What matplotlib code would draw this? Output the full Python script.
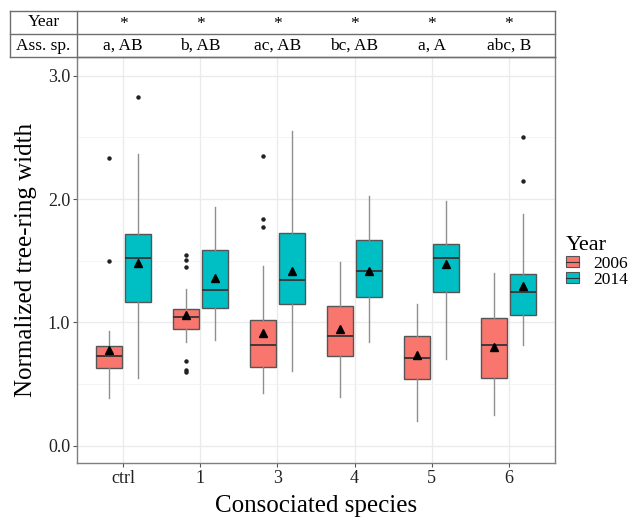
import matplotlib
matplotlib.use("Agg")
import matplotlib.pyplot as plt
from matplotlib.lines import Line2D
from matplotlib.patches import Patch
import matplotlib.transforms as mtransforms

plt.rcParams['font.family'] = ['Liberation Serif', 'DejaVu Serif']

# categories and table letters
species = ["ctrl", "1", "3", "4", "5", "6"]
year_sig = ["*", "*", "*", "*", "*", "*"]
ass_sp = ["a, AB", "b, AB", "ac, AB", "bc, AB", "a, A", "abc, B"]
years = ["2006", "2014"]
colors = ["#F8766D", "#00BFC4"]

# box stats, per year, per species
med_2006 = [0.725, 1.046, 0.817, 0.887, 0.714, 0.814]
q1_2006 = [0.63, 0.949, 0.636, 0.725, 0.538, 0.549]
q3_2006 = [0.807, 1.109, 1.022, 1.135, 0.887, 1.036]
lo_2006 = [0.39, 0.844, 0.425, 0.395, 0.20, 0.246]
hi_2006 = [0.93, 1.271, 1.455, 1.492, 1.152, 1.40]
mean_2006 = [0.776, 1.06, 0.917, 0.944, 0.736, 0.803]
out_2006 = [[2.336, 1.498], [1.547, 1.503, 1.447, 0.69, 0.614, 0.598],
            [2.352, 1.836, 1.774], [], [], []]

med_2014 = [1.522, 1.265, 1.346, 1.414, 1.52, 1.249]
q1_2014 = [1.163, 1.12, 1.149, 1.209, 1.244, 1.062]
q3_2014 = [1.714, 1.59, 1.722, 1.668, 1.636, 1.39]
lo_2014 = [0.549, 0.855, 0.603, 0.841, 0.70, 0.814]
hi_2014 = [2.368, 1.936, 2.55, 2.025, 1.985, 1.877]
mean_2014 = [1.484, 1.363, 1.417, 1.419, 1.474, 1.298]
out_2014 = [[2.83], [], [], [], [], [2.506, 2.149]]

series = [
    (med_2006, q1_2006, q3_2006, lo_2006, hi_2006, mean_2006, out_2006),
    (med_2014, q1_2014, q3_2014, lo_2014, hi_2014, mean_2014, out_2014),
]

fig = plt.figure(figsize=(6.32, 5.18), dpi=100)
ax = fig.add_axes([77/632, 1 - 463/518, (555-77)/632, (463-57)/518])

offsets = [-0.1875, 0.1875]
for k, (med, q1, q3, lo, hi, mn, outl) in enumerate(series):
    stats = []
    for i in range(len(species)):
        stats.append(dict(med=med[i], q1=q1[i], q3=q3[i], whislo=lo[i],
                          whishi=hi[i], fliers=outl[i]))
    pos = [i + offsets[k] for i in range(len(species))]
    ax.bxp(stats, positions=pos, widths=0.3375, patch_artist=True,
           showcaps=False,
           boxprops=dict(facecolor=colors[k], edgecolor="#555555", linewidth=1.0),
           whiskerprops=dict(color="#8f8f8f", linewidth=1.0),
           medianprops=dict(color="#333333", linewidth=1.3),
           flierprops=dict(marker="o", markersize=2.2, markerfacecolor="#222222",
                           markeredgecolor="#222222"),
           zorder=3)
    ax.plot(pos, mn, linestyle="none", marker="^", markersize=5.5,
            color="black", zorder=5)

ax.set_xlim(-0.6, 5.6)
ax.set_ylim(-0.14, 3.152)
ax.set_xticks(range(len(species)))
ax.set_xticklabels(species)
ax.set_yticks([0, 1, 2, 3])
ax.set_yticklabels(["0.0", "1.0", "2.0", "3.0"])
ax.set_yticks([0.5, 1.5, 2.5], minor=True)
ax.grid(True, which="major", color="#ebebeb", linewidth=1.0, zorder=0)
ax.grid(True, which="minor", axis="y", color="#f2f2f2", linewidth=0.6, zorder=0)
ax.set_axisbelow(True)
ax.tick_params(axis="both", which="major", length=3, color="#555555",
               labelsize=13, labelcolor="#222222", pad=2)
ax.tick_params(axis="y", which="minor", length=0)
for s in ax.spines.values():
    s.set_color("#7f7f7f")
    s.set_linewidth(1.0)

ax.set_xlabel("Consociated species", fontsize=18, labelpad=6)
ax.set_ylabel("Normalized tree-ring width", fontsize=18, labelpad=8)

# table above the panel
def fy(py):
    return 1 - py / 518

tc = "#6e6e6e"
x0, xd, x1 = 10/632, 77/632, 555/632
for py in (11, 34, 57):
    fig.add_artist(Line2D([x0, x1], [fy(py), fy(py)], color=tc, linewidth=1.0))
for px in (x0, xd, x1):
    fig.add_artist(Line2D([px, px], [fy(11), fy(57)], color=tc, linewidth=1.0))

fig.text((x0 + xd) / 2, fy(22.5), "Year", ha="center", va="center", fontsize=12.5)
fig.text((x0 + xd) / 2, fy(45.5), "Ass. sp.", ha="center", va="center", fontsize=12.5)
trans = mtransforms.blended_transform_factory(ax.transData, fig.transFigure)
for i in range(len(species)):
    fig.text(i, fy(24), year_sig[i], ha="center", va="center", fontsize=12.5,
             transform=trans)
    fig.text(i, fy(45.5), ass_sp[i], ha="center", va="center", fontsize=12.5,
             transform=trans)

# legend: small boxplot-like keys
handles = [(Patch(facecolor=colors[k], edgecolor="#555555", linewidth=0.8),
            Line2D([], [], color="#333333", linewidth=0.8))
           for k in range(2)]
fig.legend(handles=handles, labels=years, title="Year", loc="center left",
           bbox_to_anchor=(566/632, fy(262)), frameon=False, fontsize=12.5,
           title_fontsize=16, handlelength=0.75, handleheight=0.6,
           labelspacing=0.0, handletextpad=0.8, borderpad=0.0,
           borderaxespad=0.0, alignment="left")

fig.savefig("out.png", dpi=100)
